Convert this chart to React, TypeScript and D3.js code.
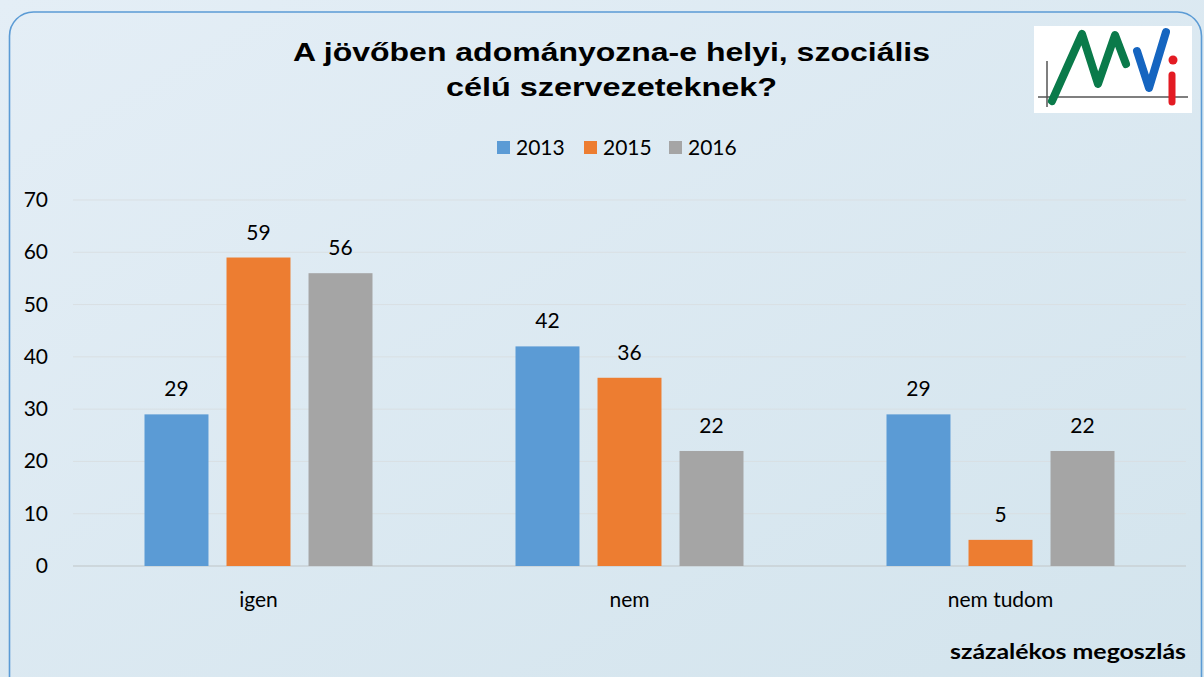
import React from "react";
import * as d3 from "d3";

const categories = ["igen", "nem", "nem tudom"];
const seriesNames = ["2013", "2015", "2016"];
const values2013 = [29, 42, 29];
const values2015 = [59, 36, 5];
const values2016 = [56, 22, 22];
const yTicks = [0, 10, 20, 30, 40, 50, 60, 70];
const colors = ["#5b9bd5", "#ed7d31", "#a5a5a5"];

const W = 1204;
const H = 677;
const font = "Lato, 'Open Sans', sans-serif";
const titleFont = "'Liberation Sans', Arial, sans-serif";

export default function App() {
  const series = [values2013, values2015, values2016];
  const x0 = d3.scaleBand().domain(categories).range([73, 1186]).paddingInner(0).paddingOuter(0);
  const x1 = d3.scaleBand().domain(seriesNames).range([0, 228]).paddingInner(0.22).paddingOuter(0);
  const y = d3.scaleLinear().domain([0, 70]).range([566, 200]);
  const groupOffset = (x0.bandwidth() - 228) / 2;

  return (
    <svg width={W} height={H} style={{ position: "absolute", left: 0, top: 0, display: "block" }}>
      <defs>
        <linearGradient id="bg" x1="0" y1="0" x2="1" y2="1">
          <stop offset="0" stopColor="#e4eef6" />
          <stop offset="1" stopColor="#d3e4ed" />
        </linearGradient>
      </defs>
      <rect x={0} y={0} width={W} height={H} fill="url(#bg)" />
      <rect x={9.5} y={12} width={1192} height={690} rx={24} ry={24} fill="none" stroke="#5b9bd5" strokeWidth={1.6} />
      <text x={293} y={61} textLength={637} lengthAdjust="spacingAndGlyphs" fontFamily={titleFont} fontWeight="bold" fontSize={25} fill="#000">
        A jövőben adományozna-e helyi, szociális
      </text>
      <text x={446} y={96} textLength={331} lengthAdjust="spacingAndGlyphs" fontFamily={titleFont} fontWeight="bold" fontSize={25} fill="#000">
        célú szervezeteknek?
      </text>

      {/* logo */}
      <g>
        <rect x={1034} y={26} width={158} height={87} fill="#fff" />
        <line x1={1047} y1={61} x2={1047} y2={107} stroke="#555" strokeWidth={1.5} />
        <line x1={1038} y1={97} x2={1188} y2={97} stroke="#555" strokeWidth={1.5} />
        <path d="M1052,101 L1082,34 L1098,84 L1115,35 L1126,64" fill="none" stroke="#0a7a4a" strokeWidth={8} strokeLinecap="round" strokeLinejoin="round" />
        <path d="M1137,51 L1149,88 L1166,32" fill="none" stroke="#1565c0" strokeWidth={8} strokeLinecap="round" strokeLinejoin="round" />
        <line x1={1172} y1={75} x2={1172} y2={102} stroke="#e31b23" strokeWidth={7} strokeLinecap="round" />
        <circle cx={1173} cy={60} r={4.5} fill="#e31b23" />
      </g>

      {/* legend */}
      {seriesNames.map((s, i) => {
        const lx = [497, 584, 669][i];
        return (
          <g key={s}>
            <rect x={lx} y={141} width={13} height={13} fill={colors[i]} />
            <text x={lx + 19} y={155} fontFamily={font} fontSize={21} fill="#000">{s}</text>
          </g>
        );
      })}

      {/* gridlines */}
      {yTicks.map((t) => (
        <g key={t}>
          <line x1={73} x2={1186} y1={y(t)} y2={y(t)} stroke={t === 0 ? "#c9d0d4" : "#d9dfe3"} strokeWidth={t === 0 ? 1.5 : 1} />
          <text x={48} y={y(t) + 7} textAnchor="end" fontFamily={font} fontSize={21} fill="#000">{t}</text>
        </g>
      ))}

      {/* bars */}
      {categories.map((c, ci) => (
        <g key={c} transform={`translate(${(x0(c) as number) + groupOffset},0)`}>
          {seriesNames.map((s, si) => {
            const v = series[si][ci];
            const bx = x1(s) as number;
            return (
              <g key={s}>
                <rect x={bx} y={y(v)} width={x1.bandwidth()} height={y(0) - y(v)} fill={colors[si]} />
                <text x={bx + x1.bandwidth() / 2} y={y(v) - 18} textAnchor="middle" fontFamily={font} fontSize={21} fill="#000">{v}</text>
              </g>
            );
          })}
        </g>
      ))}

      {/* category labels */}
      {categories.map((c) => (
        <text key={c} x={(x0(c) as number) + x0.bandwidth() / 2} y={607} textAnchor="middle" fontFamily={font} fontSize={21} fill="#000">{c}</text>
      ))}

      <text x={950} y={659} textLength={236} lengthAdjust="spacingAndGlyphs" fontFamily={font} fontWeight="bold" fontSize={20} fill="#000">százalékos megoszlás</text>
    </svg>
  );
}
